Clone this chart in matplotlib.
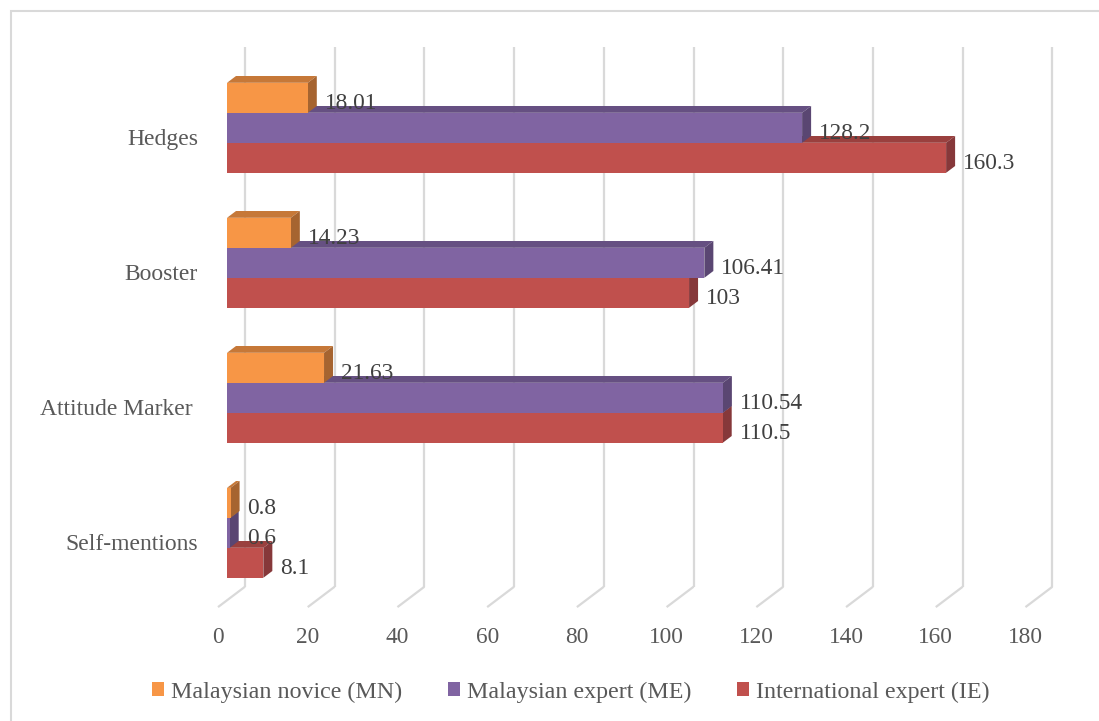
import matplotlib
matplotlib.use("Agg")
import matplotlib.pyplot as plt
from matplotlib.patches import Polygon, Patch, Rectangle

# ---- data ----
categories = ["Hedges", "Booster", "Attitude Marker ", "Self-mentions"]
series_names = ["Malaysian novice (MN)", "Malaysian expert (ME)", "International expert (IE)"]
mn_values = [18.01, 14.23, 21.63, 0.8]
me_values = [128.2, 106.41, 110.54, 0.6]
ie_values = [160.3, 103, 110.5, 8.1]
x_ticks = [0, 20, 40, 60, 80, 100, 120, 140, 160, 180]

front_colors = ["#F79646", "#8064A2", "#C0504D"]
top_colors = ["#C67838", "#665082", "#9A403E"]
side_colors = ["#A66430", "#5A4672", "#86383A"]
text_color = "#595959"
grid_color = "#D9D9D9"
FONT = ["Liberation Serif", "DejaVu Serif"]

plt.rcParams["font.family"] = FONT

W, H = 1099, 721
fig = plt.figure(figsize=(W / 100, H / 100), dpi=100)

# outer chart border
fig.patches.append(Rectangle((11 / W, -0.01), 1.02, 1 - 11 / H + 0.01, transform=fig.transFigure,
                             fill=False, edgecolor=grid_color, linewidth=1.5))

px_per_unit = 4.486
x0_px = 227
top_px = 60.3
cat_px = 135
ncat = len(categories)
ax = fig.add_axes([x0_px / W, 1 - (top_px + ncat * cat_px) / H,
                   x_ticks[-1] * px_per_unit / W, ncat * cat_px / H])
ax.set_xlim(0, x_ticks[-1])
ax.set_ylim(ncat, 0)
ax.axis("off")

sx = 9 / px_per_unit       # depth step in x units
sy = 6.8 / cat_px          # depth step in y units

# back wall gridlines and floor lines
for v in x_ticks:
    ax.plot([v + 2 * sx, v + 2 * sx], [-2 * sy, ncat - 2 * sy], color=grid_color, lw=1.6,
            zorder=1, clip_on=False, solid_capstyle="butt")
    ax.plot([v + 2 * sx, v - sx], [ncat - 2 * sy, ncat + sy], color=grid_color, lw=1.6,
            zorder=1, clip_on=False, solid_capstyle="butt")
    ax.text(v - sx, ncat + 37 / cat_px, f"{v}", ha="center", va="center",
            fontsize=16.8, color=text_color, clip_on=False)

gap = 1 / 6
bh = 2 / 9
series_values = [mn_values, me_values, ie_values]

for j in [2, 1, 0]:
    vals = series_values[j]
    z = 3 + (2 - j)
    for i, v in enumerate(vals):
        y0 = i + gap + j * bh
        y1 = y0 + bh
        top = Polygon([(0, y0), (v, y0), (v + sx, y0 - sy), (sx, y0 - sy)], closed=True,
                      facecolor=top_colors[j], edgecolor="none", zorder=z, clip_on=False)
        side = Polygon([(v, y0), (v + sx, y0 - sy), (v + sx, y1 - sy), (v, y1)], closed=True,
                       facecolor=side_colors[j], edgecolor="none", zorder=z, clip_on=False)
        ax.add_patch(top)
        ax.add_patch(side)
    ax.barh([i + gap + j * bh for i in range(ncat)], vals, height=bh, left=0, align="edge",
            color=front_colors[j], edgecolor="none", zorder=z, clip_on=False)

# value labels
for j in range(3):
    for i, v in enumerate(series_values[j]):
        yc = i + gap + j * bh + bh / 2 + 6 / cat_px
        ax.text(v + 17 / px_per_unit, yc, f"{v:g}", ha="left", va="center",
                fontsize=16.8, color="#404040", zorder=10, clip_on=False)

# category labels
for i, c in enumerate(categories):
    ax.text(-29 / px_per_unit, i + 0.5 + 12 / cat_px, c, ha="right", va="center",
            fontsize=17, color=text_color, clip_on=False)

# legend
handles = [Patch(facecolor=front_colors[j], edgecolor="none", label=series_names[j]) for j in range(3)]
leg = fig.legend(handles=handles, loc="center", bbox_to_anchor=(571 / W, 1 - 692 / H), ncol=3,
                 frameon=False, fontsize=17.3, handlelength=0.5, handleheight=0.5,
                 handletextpad=0.3, columnspacing=1.9, labelcolor=text_color)

fig.savefig("out.png", dpi=100)
